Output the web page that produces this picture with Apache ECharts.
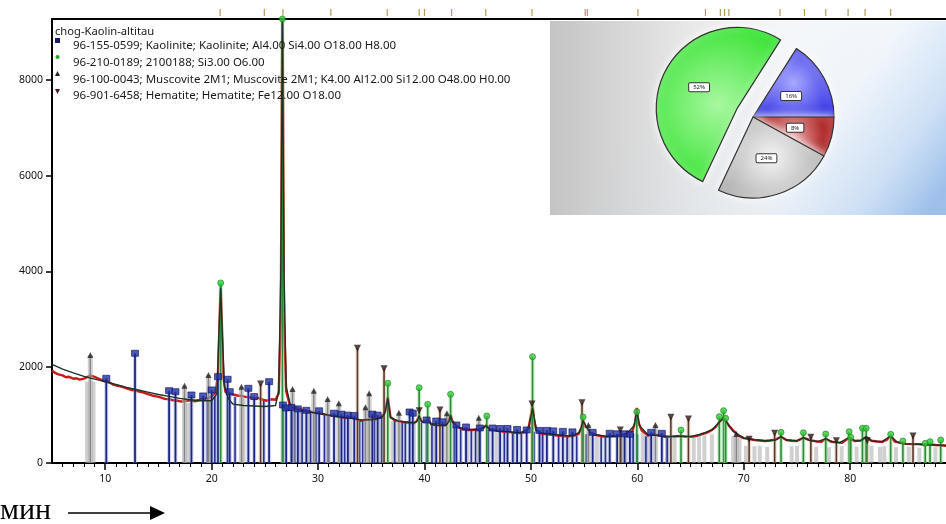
<!DOCTYPE html>
<html><head><meta charset="utf-8">
<script src="https://cdn.jsdelivr.net/npm/echarts@6/dist/echarts.min.js"></script>
<style>html,body{margin:0;padding:0;background:#fff}#c{width:946px;height:524px}</style>
</head><body><div id="c"></div>
<script>
// ---------- data ----------
const majorTicks = [10, 20, 30, 40, 50, 60, 70, 80];
const minorTicks = [6,7,8,9,11,12,13,14,15,16,17,18,19,21,22,23,24,25,26,27,28,29,31,32,33,34,35,36,37,38,39,41,42,43,44,45,46,47,48,49,51,52,53,54,55,56,57,58,59,61,62,63,64,65,66,67,68,69,71,72,73,74,75,76,77,78,79,81,82,83,84,85,86,87,88];
const yTicks = [0, 2000, 4000, 6000, 8000];

const obsAngle = [5,5.3,5.6,6,6.3,6.6,7,7.3,7.6,8,8.3,8.6,9,9.3,9.6,10,10.4,10.8,11.2,11.6,12,12.4,12.8,13.2,13.6,14,14.4,14.8,15.2,15.6,16,16.4,16.8,17.2,17.6,18,18.4,18.8,19.2,19.6,20,20.4,20.6,20.75,20.85,20.95,21.1,21.3,21.6,22,22.4,22.8,23.2,23.6,24,24.4,24.8,25.2,25.6,26,26.3,26.5,26.6,26.65,26.7,26.8,27,27.3,27.6,28,28.5,29,29.5,30,30.5,31,31.5,32,32.5,33,33.5,34,34.5,35,35.5,36,36.3,36.55,36.8,37.2,37.6,38,38.5,39,39.3,39.5,39.7,40,40.3,40.6,41,41.5,42,42.3,42.45,42.6,43,43.5,44,44.5,45,45.5,45.8,46.1,46.6,47,47.5,48,48.5,49,49.5,49.8,50,50.15,50.3,50.5,51,51.5,52,52.5,53,53.5,54,54.5,54.75,54.9,55.1,55.3,55.6,56,56.5,57,57.5,58,58.5,59,59.5,59.8,59.95,60.1,60.4,61,61.5,62,62.5,63,63.5,64,64.5,65,65.5,66,66.5,67,67.4,67.7,67.9,68.1,68.3,68.6,69,69.5,70,70.5,71,71.5,72,72.5,73,73.5,74,74.5,75,75.6,76.2,76.8,77.3,77.7,78.2,78.7,79.2,79.9,80.4,81,81.5,82,82.5,83,83.4,83.8,84.2,84.7,85.2,85.8,86.4,87,87.5,88,88.5,89];
const obsCounts = [1930,1880,1850,1830,1790,1800,1760,1770,1740,1760,1790,1830,1800,1770,1740,1700,1680,1630,1610,1590,1560,1530,1510,1490,1470,1440,1410,1390,1370,1340,1330,1310,1300,1280,1300,1310,1290,1310,1330,1350,1390,1480,1900,3000,3700,3000,1800,1480,1450,1430,1410,1400,1380,1370,1340,1360,1320,1300,1330,1320,1450,3000,8000,9250,8000,3000,1500,1250,1180,1150,1110,1090,1060,1040,1020,1000,980,960,940,955,920,880,900,930,910,970,1080,1380,960,890,870,855,840,830,880,1000,870,860,920,820,790,775,790,900,1010,880,770,710,690,690,705,730,790,700,680,665,650,645,630,625,645,760,1000,1200,900,680,610,600,590,575,565,560,565,610,750,900,760,740,620,590,565,545,550,565,585,605,650,850,1150,850,680,570,600,580,545,545,555,565,550,545,560,600,630,690,760,860,900,950,880,780,680,570,520,500,480,470,460,470,490,550,480,465,460,525,480,450,445,505,445,430,420,525,460,470,545,465,450,440,480,565,445,420,400,395,395,380,385,375,370,360];

const calcAngle = [5,6,7,8,9,10,11,12,13,14,15,16,17,18,19,20,20.5,20.7,20.85,21,21.2,21.6,22,23,24,25,26,26.3,26.5,26.65,26.8,27,27.4,28,29,30,31,32,33,34,35,36,36.3,36.55,36.8,37.5,38,39,39.3,39.5,39.7,40,40.3,40.6,41,42,42.3,42.45,42.6,43,44,45,45.5,45.8,46.1,47,48,49,49.8,50.15,50.5,51,52,53,54,54.6,54.9,55.2,55.6,56,57,58,59,59.7,59.95,60.2,61,62,63,64,65,66,67,67.7,68.1,68.4,69,70,71,72,73,73.5,74,75,75.6,76.2,77,77.7,78.3,79,79.9,80.5,81,81.5,82,83,83.8,84.4,85,86,87,88,89];
const calcCounts = [2060,1960,1880,1810,1750,1700,1640,1580,1530,1480,1430,1390,1350,1320,1300,1300,1450,2800,3650,2700,1600,1330,1230,1200,1190,1180,1200,1500,4000,9270,4000,1600,1200,1110,1070,1040,1000,965,940,900,900,950,1050,1350,950,880,860,840,870,980,870,850,900,810,790,780,870,990,860,760,700,700,720,780,700,670,650,630,720,1150,700,620,595,575,570,650,880,760,630,595,560,570,610,780,1100,780,590,575,555,560,555,600,690,850,940,850,660,520,485,465,480,550,480,465,530,470,450,510,445,425,530,460,470,550,460,445,570,440,405,395,385,375,365];

const kaolAngle = [10.1,12.8,16.0,16.6,18.1,19.2,20.0,20.6,21.5,21.7,23.45,24.0,25.4,26.7,27.0,27.5,28.1,28.9,30.1,31.5,32.2,32.8,33.4,35.1,35.6,38.6,38.9,40.2,41.1,41.7,43.0,43.9,45.2,46.4,47.1,47.8,48.7,49.6,50.8,51.5,52.1,53.0,53.9,55.8,57.4,58.1,58.8,59.3,61.3,62.3];
const kaolCounts = [1769,2291,1510,1489,1420,1400,1525,1803,1748,1489,1560,1386,1698,1211,1149,1160,1130,1100,1090,1040,1020,1000,990,1020,1000,1065,1040,898,877,860,794,752,731,731,720,720,700,690,680,680,670,660,650,640,620,610,610,600,640,620];
const kaolMinorAngle = [19.6,20.3,22.2,24.9,27.8,28.5,29.3,29.8,30.6,31.0,32.5,33.9,34.2,35.3,36.0,37.2,37.9,38.2,39.7,40.7,42.8,43.4,44.4,44.8,46.0,47.5,48.3,49.1,50.3,51.1,52.6,53.4,54.3,55.2,56.6,57.0,58.5,59.6,60.0,60.8,62.8];
const kaolMinorCounts = [1350,1400,1380,1300,1110,1090,1060,1050,1020,1000,950,900,880,920,960,880,850,860,850,800,760,720,690,700,690,650,640,630,650,610,590,580,560,600,560,545,590,620,600,560,540];

const muscAngle = [8.6,17.45,19.7,22.8,27.6,29.6,30.9,31.95,34.45,34.8,37.6,42.1,45.1,55.4,61.7,69.3];
const muscCounts = [2256,1615,1838,1594,1546,1510,1337,1247,1163,1456,1051,1038,946,794,794,606];
const muscMinorAngle = [8.3,8.9,17.8,19.9,23.0,28.3,29.0,33.0,35.9,37.0,39.0,41.0,44.0,46.8,48.3,51.0,53.5,56.2,58.9,60.5,61.0,62.8,63.5,65.3,65.8,66.3,67.0,69.0,69.6,70.2,71.0,71.5,72.2,74.5,75.0,76.8,78.0,79.2,80.6,82.0,82.8,83.2,84.3,85.5,86.5,88.0];
const muscMinorCounts = [1700,1700,1250,1300,1350,1090,1080,940,940,880,820,780,680,670,630,600,560,560,600,640,560,540,540,540,560,580,600,560,520,360,350,360,340,350,360,340,330,350,340,360,340,350,330,340,320,330];

const qtzAngle = [20.85,26.65,36.55,39.5,40.3,42.45,45.85,50.15,54.9,59.95,64.1,67.7,68.1,68.3,73.5,75.6,77.7,79.9,80.05,81.15,81.5,83.8,84.95,87.05,87.5,88.5];
const qtzCounts = [3760,9270,1665,1573,1226,1435,982,2220,961,1072,689,968,1093,933,641,633,606,654,537,725,725,599,460,411,445,480];

const hemAngle = [24.6,33.7,36.2,39.5,41.45,50.1,54.8,58.4,63.15,64.8,70.5,72.9,76.3,78.7,81.6,85.9];
const hemCounts = [1650,2395,1970,1093,1107,1232,1260,689,954,919,495,620,537,466,466,564];

const topMarkAngle = [20.8,24.95,26.7,31.2,36.5,39.5,40.0,42.55,45.75,50.1,55.1,55.3,60.05,66.4,67.8,68.2,68.6,73.4,75.7,77.7,79.8,81.4,83.8];

const legendTitle = 'chog-Kaolin-altitau';
const legendNames = [
  '96-155-0599; Kaolinite; Kaolinite; Al4.00 Si4.00 O18.00 H8.00',
  '96-210-0189; 2100188; Si3.00 O6.00',
  '96-100-0043; Muscovite 2M1; Muscovite 2M1; K4.00 Al12.00 Si12.00 O48.00 H0.00',
  '96-901-6458; Hematite; Hematite; Fe12.00 O18.00'
];
const pieNames = ['Kaolinite', 'Hematite', 'Muscovite', 'Quartz'];
const pieValues = [16, 8, 24, 52];

// ---------- chart ----------
const zip = (a, b) => a.map((v, i) => [v, b[i]]);
const FONT = 'Noto Sans';
const YMAX = 9270;

function stickRender(lineColor, paleColor, paleW, lineW) {
  return function (params, api) {
    const x = api.value(0), h = api.value(1);
    const p0 = api.coord([x, 0]);
    const p1 = api.coord([x, h]);
    const children = [];
    if (paleColor) children.push({type: 'rect', shape: {x: p0[0] - paleW / 2, y: p1[1], width: paleW, height: p0[1] - p1[1]}, style: {fill: paleColor}});
    if (lineColor) children.push({type: 'line', shape: {x1: p0[0], y1: p0[1], x2: p1[0], y2: p1[1]}, style: {stroke: lineColor, lineWidth: lineW}});
    return {type: 'group', children};
  };
}
function stickSeries(data, lineColor, paleColor, paleW, lineW, z) {
  return {type: 'custom', data, encode: {x: 0, y: 1}, clip: true, silent: true, z,
    renderItem: stickRender(lineColor, paleColor, paleW, lineW)};
}
function rad(c0, c1) {
  return {type: 'radial', x: 0.5, y: 0.5, r: 0.75, colorStops: [{offset: 0, color: c0}, {offset: 1, color: c1}]};
}

const chart = echarts.init(document.getElementById('c'), null, {renderer: 'canvas'});
const option = {
  animation: false,
  backgroundColor: '#fff',
  grid: {left: 52, right: 0, top: 19, bottom: 61},
  xAxis: [
    {type: 'value', min: 5, max: 89,
      axisLine: {lineStyle: {color: '#000', width: 2}},
      axisTick: {customValues: majorTicks, length: 7, lineStyle: {color: '#000', width: 1.5}},
      axisLabel: {customValues: majorTicks, color: '#111', fontSize: 10.5, margin: 11, fontFamily: FONT},
      splitLine: {show: false}},
    {type: 'value', min: 5, max: 89, position: 'bottom',
      axisLine: {show: false},
      axisTick: {customValues: minorTicks, length: 4, lineStyle: {color: '#000', width: 1}},
      axisLabel: {show: false}, splitLine: {show: false}},
    {type: 'value', min: 5, max: 89, position: 'top',
      axisLine: {lineStyle: {color: '#000', width: 2}},
      axisTick: {show: false}, axisLabel: {show: false}, splitLine: {show: false}}
  ],
  yAxis: {type: 'value', min: 0, max: YMAX,
    axisLine: {show: true, lineStyle: {color: '#000', width: 2}},
    axisTick: {show: true, customValues: yTicks, length: 6, lineStyle: {color: '#000', width: 1.5}},
    axisLabel: {customValues: yTicks, color: '#111', fontSize: 10.5, margin: 9, fontFamily: FONT,
      formatter: v => String(v)},
    splitLine: {show: false}},
  series: [
    // pale reference bars
    stickSeries(zip(muscMinorAngle, muscMinorCounts), null, 'rgba(170,170,170,0.55)', 4, 0, 1),
    stickSeries(zip(kaolMinorAngle, kaolMinorCounts), '#26308f', 'rgba(150,160,220,0.45)', 4, 1.6, 1),
    // observed pattern
    {type: 'line', data: zip(obsAngle, obsCounts), showSymbol: false, symbol: 'none', z: 2, silent: true,
      lineStyle: {color: '#cc1a1a', width: 2.4}},
    // reference sticks
    stickSeries(zip(muscAngle, muscCounts), '#858585', 'rgba(170,170,170,0.55)', 5, 1.4, 3),
    stickSeries(zip(kaolAngle, kaolCounts), '#1b2585', 'rgba(150,160,220,0.45)', 4, 1.8, 3),
    stickSeries(zip(hemAngle, hemCounts), '#5b3535', 'rgba(215,195,150,0.5)', 4, 1.6, 3),
    stickSeries(zip(qtzAngle, qtzCounts), '#2b8a3c', 'rgba(150,220,140,0.5)', 4, 1.6, 3),
    // calculated pattern
    {type: 'line', data: zip(calcAngle, calcCounts), showSymbol: false, symbol: 'none', z: 4, silent: true,
      lineStyle: {color: '#1c3426', width: 1.4}},
    // markers
    {type: 'scatter', data: zip(kaolAngle, kaolCounts), symbol: 'rect', symbolSize: [7, 6], z: 5, silent: true,
      itemStyle: {color: '#2232a8', borderColor: '#10145a', borderWidth: 0.8}},
    {type: 'scatter', data: zip(muscAngle, muscCounts), symbol: 'triangle', symbolSize: 6, z: 5, silent: true,
      itemStyle: {color: '#222'}},
    {type: 'scatter', data: zip(hemAngle, hemCounts), symbol: 'triangle', symbolRotate: 180, symbolSize: 7, z: 5, silent: true,
      itemStyle: {color: '#2a1515'}},
    {type: 'scatter', data: zip(qtzAngle, qtzCounts), symbol: 'circle', symbolSize: 6, z: 5, silent: true,
      itemStyle: {color: '#33cc33', borderColor: '#1d7a28', borderWidth: 0.8}},
    // peak markers above the frame
    {type: 'custom', data: topMarkAngle.map(a => [a, YMAX]), encode: {x: 0, y: 1}, clip: false, silent: true, z: 6,
      renderItem: function (params, api) {
        const p = api.coord([api.value(0), api.value(1)]);
        return {type: 'line', shape: {x1: p[0], y1: p[1] - 10, x2: p[0], y2: p[1] - 3}, style: {stroke: '#b49a5c', lineWidth: 1.2}};
      }},
    // phase pie
    {type: 'pie', center: [753, 117], radius: 81, startAngle: 57.6, clockwise: true, z: 10, silent: true,
      selectedMode: 'multiple', selectedOffset: 18, avoidLabelOverlap: false,
      itemStyle: {borderColor: '#333', borderWidth: 1.2, shadowColor: 'rgba(255,255,255,1)', shadowBlur: 8},
      label: {show: true, position: 'inside', formatter: '{d}%', fontSize: 6, color: '#222', fontFamily: FONT,
        backgroundColor: '#fff', borderColor: '#333', borderWidth: 1, padding: [1, 4], borderRadius: 1},
      labelLine: {show: false},
      emphasis: {disabled: true},
      data: [
        {name: pieNames[0], value: pieValues[0], itemStyle: {color: rad('#a8a8ff', '#2020e0')}},
        {name: pieNames[1], value: pieValues[1], itemStyle: {color: rad('#eaa8a8', '#b02c2c')}},
        {name: pieNames[2], value: pieValues[2], itemStyle: {color: rad('#f4f4f4', '#a8a8a8')}},
        {name: pieNames[3], value: pieValues[3], selected: true, itemStyle: {color: rad('#a8f8a0', '#2ee02a')}}
      ]}
  ],
  graphic: [
    {type: 'rect', z: 5, silent: true, shape: {x: 550, y: 21, width: 396, height: 194},
      style: {fill: {type: 'linear', x: 0, y: 0, x2: 1, y2: 0, colorStops: [
        {offset: 0, color: '#c4c4c4'}, {offset: 0.35, color: '#e8e8e8'}, {offset: 0.6, color: '#fafafa'},
        {offset: 1, color: '#ffffff'}]}}},
    {type: 'rect', z: 6, silent: true, shape: {x: 550, y: 21, width: 396, height: 194},
      style: {fill: {type: 'linear', x: 0.35, y: 0.1, x2: 0.95, y2: 1, colorStops: [
        {offset: 0, color: 'rgba(150,190,235,0)'}, {offset: 0.55, color: 'rgba(150,190,235,0.12)'},
        {offset: 0.8, color: 'rgba(150,190,235,0.45)'}, {offset: 1, color: 'rgba(140,180,230,0.85)'}]}}},
    {type: 'text', z: 20, left: 55, top: 26, style: {text: legendTitle, font: '11.2px "Noto Sans"', fill: '#1a1a1a'}},
    {type: 'rect', z: 20, shape: {x: 55, y: 38, width: 5, height: 5}, style: {fill: '#1a1a6a'}},
    {type: 'circle', z: 20, shape: {cx: 57.5, cy: 57, r: 2}, style: {fill: '#22aa22'}},
    {type: 'polygon', z: 20, shape: {points: [[57.5, 71], [55, 76], [60, 76]]}, style: {fill: '#222'}},
    {type: 'polygon', z: 20, shape: {points: [[55, 89], [60, 89], [57.5, 94]]}, style: {fill: '#4a1a1a'}},
    {type: 'text', z: 20, left: 73, top: 40, style: {text: legendNames[0], font: '11.5px "Noto Sans"', fill: '#1a1a1a'}},
    {type: 'text', z: 20, left: 73, top: 57, style: {text: legendNames[1], font: '11.5px "Noto Sans"', fill: '#1a1a1a'}},
    {type: 'text', z: 20, left: 73, top: 74, style: {text: legendNames[2], font: '11.5px "Noto Sans"', fill: '#1a1a1a'}},
    {type: 'text', z: 20, left: 73, top: 90, style: {text: legendNames[3], font: '11.5px "Noto Sans"', fill: '#1a1a1a'}},
    {type: 'text', z: 20, left: 0, top: 496, style: {text: 'мин', font: '30px "Liberation Serif"', fill: '#000'}},
    {type: 'line', z: 20, shape: {x1: 68, y1: 513, x2: 152, y2: 513}, style: {stroke: '#000', lineWidth: 1.5}},
    {type: 'polygon', z: 20, shape: {points: [[150, 506], [165, 513], [150, 520]]}, style: {fill: '#000'}}
  ]
};
chart.setOption(option);
</script></body></html>
